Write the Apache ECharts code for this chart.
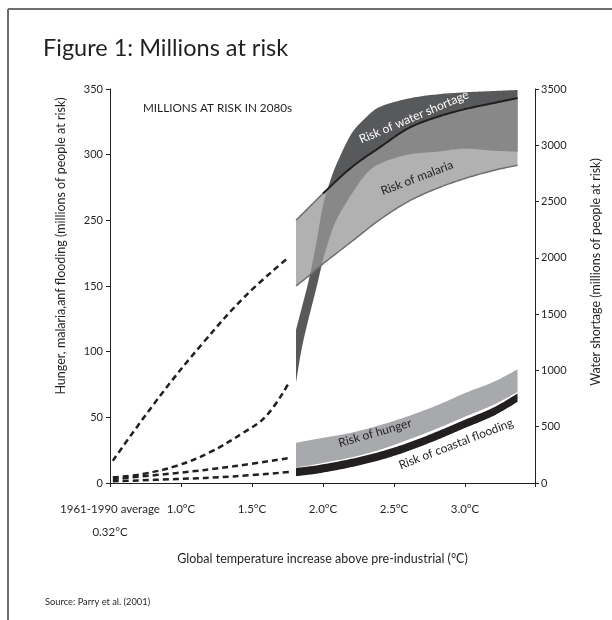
<!DOCTYPE html>
<html>
<head>
<meta charset="utf-8">
<script src="https://cdn.jsdelivr.net/npm/echarts@6/dist/echarts.min.js"></script>
<style>
  html, body { margin: 0; padding: 0; background: #ffffff; }
  #chart { width: 612px; height: 620px; }
</style>
</head>
<body>
<div id="chart"></div>
<script>
// Temperature axis: ticks are evenly spaced; 0.5 stands for the 1961-1990 baseline (0.32°C)
const xTickValues = [0.5, 1.0, 1.5, 2.0, 2.5, 3.0];
const xTickLabels = ['1961-1990 average\n0.32°C', '1.0°C', '1.5°C', '2.0°C', '2.5°C', '3.0°C'];
// Left axis tick labels as printed (0..300 scale, 50 per step)
const leftTickLabels = ['0', '50', '100', '150', '250', '300', '350'];

// 2080s ranges for hunger, malaria and coastal flooding (left axis)
const bandX       = [1.81, 1.9, 2.0, 2.2, 2.4, 2.6, 2.8, 3.0, 3.2, 3.37];
const malariaLow  = [150.0, 157.7, 166.9, 183.7, 200.5, 214.3, 224.2, 231.9, 238.0, 241.9];
const malariaHigh = [200.0, 209.7, 220.4, 240.3, 255.6, 270.1, 278.6, 284.7, 289.3, 293.1];
const hungerLow   = [11.9, 13.3, 15.3, 19.5, 25.3, 32.9, 41.3, 50.5, 59.5, 69.2];
const hungerHigh  = [30.6, 32.5, 34.4, 38.3, 44.0, 50.9, 59.0, 68.5, 76.9, 86.5];
const floodLow    = [5.2, 6.3, 7.9, 12.1, 17.4, 24.3, 32.7, 41.9, 51.1, 61.8];
const floodHigh   = [11.5, 12.6, 14.2, 18.4, 23.7, 30.6, 39.0, 48.2, 57.4, 68.1];

// 2080s range for water shortage (right axis)
const waterX    = [1.81, 1.85, 1.9, 1.95, 2.0, 2.05, 2.1, 2.2, 2.3, 2.4, 2.6, 2.8, 3.0, 3.2, 3.37];
const waterLow  = [893, 1193, 1467, 1715, 1980, 2192, 2351, 2563, 2740, 2837, 2917, 2943, 2970, 2952, 2943];
const waterHigh = [1361, 1555, 1803, 2112, 2466, 2680, 2846, 3102, 3244, 3341, 3415, 3452, 3471, 3482, 3491];

// Trends from the baseline up to the 2080s ranges (dashed)
const malariaTrendX = [0.52, 0.85, 1.15, 1.45, 1.76];
const malariaTrend  = [17, 66, 106, 142, 172];
const waterTrendX   = [0.52, 0.73, 0.97, 1.2, 1.44, 1.6, 1.76];
const waterTrend    = [50, 80, 153, 271, 448, 595, 890];
const hungerTrendX  = [0.52, 0.97, 1.37, 1.76];
const hungerTrend   = [3, 7.6, 12.7, 19];
const floodTrendX   = [0.52, 0.97, 1.37, 1.76];
const floodTrend    = [1.3, 3, 5, 8.4];

const INK = '#231f20';
const FONT = 'Lato, "Open Sans", sans-serif';

function pairs(xs, ys) { return xs.map((x, i) => [x, ys[i]]); }

// Catmull-Rom curve through projected pixel points, flattened for drawing
function smoothPixels(pts, steps) {
  steps = steps || 14;
  const out = [];
  const n = pts.length;
  for (let i = 0; i < n - 1; i++) {
    const p0 = pts[Math.max(i - 1, 0)], p1 = pts[i], p2 = pts[i + 1], p3 = pts[Math.min(i + 2, n - 1)];
    for (let s = 0; s < steps; s++) {
      const t = s / steps, t2 = t * t, t3 = t2 * t;
      out.push([0, 1].map(k => 0.5 * (2 * p1[k] + (-p0[k] + p2[k]) * t +
        (2 * p0[k] - 5 * p1[k] + 4 * p2[k] - p3[k]) * t2 +
        (-p0[k] + 3 * p1[k] - 3 * p2[k] + p3[k]) * t3)));
    }
  }
  out.push(pts[n - 1].slice());
  return out;
}

// Filled range between a low and a high curve
function band(xs, low, high, yAxisIndex, fill, z) {
  return {
    type: 'custom', coordinateSystem: 'cartesian2d', yAxisIndex, z, silent: true,
    data: xs.map((x, i) => [x, low[i], high[i]]),
    encode: { x: 0, y: [1, 2] },
    renderItem: (params, api) => {
      if (params.dataIndex !== 0) return null;
      const up = smoothPixels(xs.map((x, i) => api.coord([x, high[i]])));
      const lo = smoothPixels(xs.map((x, i) => api.coord([x, low[i]])));
      return { type: 'polygon', shape: { points: up.concat(lo.reverse()) }, style: { fill } };
    }
  };
}

// Outline of a range edge; fromX limits where the stroke starts
function edge(xs, ys, yAxisIndex, color, width, z, fromX) {
  return {
    type: 'custom', coordinateSystem: 'cartesian2d', yAxisIndex, z, silent: true,
    data: pairs(xs, ys),
    encode: { x: 0, y: 1 },
    renderItem: (params, api) => {
      if (params.dataIndex !== 0) return null;
      let pts = smoothPixels(xs.map((x, i) => api.coord([x, ys[i]])));
      if (fromX != null) {
        const px = api.coord([fromX, 0])[0];
        pts = pts.filter(p => p[0] >= px);
      }
      return { type: 'polyline', shape: { points: pts }, style: { stroke: color, lineWidth: width, fill: null } };
    }
  };
}

function dashed(xs, ys, yAxisIndex) {
  return {
    type: 'line', data: pairs(xs, ys), yAxisIndex, z: 20, smooth: 0.4, symbol: 'none',
    lineStyle: { color: INK, width: 2.5, type: [6, 4] }, silent: true
  };
}

const series = [
  band(waterX, waterLow, waterHigh, 1, '#58595b', 2),
  band(bandX, malariaLow, malariaHigh, 0, 'rgba(152,152,152,0.755)', 3),
  edge(bandX, malariaLow, 0, '#6d6e71', 1.5, 4),
  edge(bandX, malariaHigh, 0, '#6d6e71', 1.5, 4),
  edge(bandX, malariaHigh, 0, INK, 2, 5, 2.0),
  band(bandX, hungerLow, hungerHigh, 0, '#a7a9ac', 3),
  band(bandX, floodLow, floodHigh, 0, INK, 4),
  dashed(malariaTrendX, malariaTrend, 0),
  dashed(waterTrendX, waterTrend, 1),
  dashed(hungerTrendX, hungerTrend, 0),
  dashed(floodTrendX, floodTrend, 0)
];

function bandLabel(text, x, y, deg, color) {
  return {
    type: 'text', x, y, rotation: deg * Math.PI / 180, z: 50,
    style: { text, fill: color, font: '12px ' + FONT, textAlign: 'center', textVerticalAlign: 'middle' }
  };
}

const nameStyle = { color: INK, fontSize: 12.5, fontFamily: FONT };

const chart = echarts.init(document.getElementById('chart'), null, { renderer: 'canvas' });
chart.setOption({
  animation: false,
  backgroundColor: '#ffffff',
  grid: { left: 110, right: 77, top: 89, bottom: 137 },
  xAxis: {
    type: 'value', min: 0.5, max: 3.493, interval: 0.5,
    axisLine: { lineStyle: { color: INK, width: 1 } },
    axisTick: { length: 4, lineStyle: { color: INK } },
    splitLine: { show: false },
    axisLabel: {
      color: INK, fontSize: 11.5, fontFamily: FONT, lineHeight: 23, margin: 15,
      formatter: v => {
        const i = xTickValues.findIndex(t => Math.abs(t - v) < 1e-6);
        return i < 0 ? '' : xTickLabels[i];
      }
    },
    name: 'Global temperature increase above pre-industrial (°C)',
    nameLocation: 'middle', nameGap: 69,
    nameTextStyle: nameStyle
  },
  yAxis: [
    {
      type: 'value', min: 0, max: 300, interval: 50, position: 'left',
      axisLine: { show: true, lineStyle: { color: INK, width: 1 } },
      axisTick: { show: true, length: 4, lineStyle: { color: INK } },
      splitLine: { show: false },
      axisLabel: {
        color: INK, fontSize: 11, fontFamily: FONT, margin: 7,
        formatter: v => leftTickLabels[Math.round(v / 50)] ?? ''
      },
      name: 'Hunger, malaria,anf flooding (millions of people at risk)',
      nameLocation: 'middle', nameRotate: 90, nameGap: 43,
      nameTextStyle: Object.assign({ padding: [0, 0, 0, 80] }, nameStyle)
    },
    {
      type: 'value', min: 0, max: 3500, interval: 500, position: 'right',
      axisLine: { show: true, lineStyle: { color: INK, width: 1 } },
      axisTick: { show: true, length: 4, lineStyle: { color: INK } },
      splitLine: { show: false },
      axisLabel: { color: INK, fontSize: 11, fontFamily: FONT, margin: 6, formatter: v => String(v) },
      name: 'Water shortage (millions of people at risk)',
      nameLocation: 'middle', nameRotate: 90, nameGap: 54,
      nameTextStyle: Object.assign({ padding: [0, 0, 0, 28] }, nameStyle)
    }
  ],
  series,
  graphic: [
    { type: 'line', shape: { x1: 8, y1: 9, x2: 612, y2: 9 }, style: { stroke: '#6d6e71', lineWidth: 2 } },
    { type: 'line', shape: { x1: 8, y1: 9, x2: 8, y2: 620 }, style: { stroke: '#6d6e71', lineWidth: 2 } },
    { type: 'text', x: 43, y: 48, style: { text: 'Figure 1: Millions at risk', fill: INK, font: '23.5px ' + FONT, textVerticalAlign: 'middle' } },
    { type: 'text', x: 143, y: 108, style: { text: 'MILLIONS AT RISK IN 2080s', fill: INK, font: '11.7px ' + FONT, textVerticalAlign: 'middle' } },
    { type: 'text', x: 45, y: 602, style: { text: 'Source: Parry et al. (2001)', fill: INK, font: '9.3px ' + FONT, textVerticalAlign: 'middle' } },
    bandLabel('Risk of water shortage', 414, 117, 23, '#ffffff'),
    bandLabel('Risk of malaria', 417, 178, 21, INK),
    bandLabel('Risk of hunger', 375, 433, 16, INK),
    bandLabel('Risk of coastal flooding', 456, 444, 21, INK)
  ]
});
</script>
</body>
</html>
